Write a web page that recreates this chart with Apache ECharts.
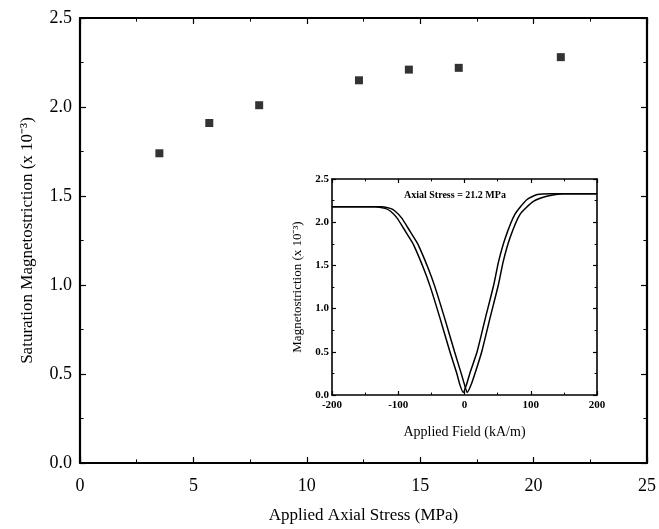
<!DOCTYPE html>
<html>
<head>
<meta charset="utf-8">
<script src="https://cdn.jsdelivr.net/npm/echarts@6/dist/echarts.min.js"></script>
<style>
  html, body { margin: 0; padding: 0; background: #fff; }
  #chart { width: 659px; height: 529px; }
</style>
</head>
<body>
<div id="chart"></div>
<script>
// main plot: saturation magnetostriction vs axial stress
const stress = [3.5, 5.7, 7.9, 12.3, 14.5, 16.7, 21.2];
const satMag = [1.74, 1.91, 2.01, 2.15, 2.21, 2.22, 2.28];

// inset: the two branches of the butterfly loop at 21.2 MPa
const fieldA = [-200, -160, -135, -120, -112, -102, -92, -84, -77, -62, -52, -37, -22, -12, -7, -2, 3, 8, 19, 31.5, 44, 51.6, 61.7, 76, 94, 110, 130, 200];
const magA = [2.18, 2.18, 2.18, 2.16, 2.13, 2.05, 1.93, 1.83, 1.74, 1.47, 1.26, 0.89, 0.50, 0.26, 0.12, 0.03, 0.12, 0.25, 0.50, 0.89, 1.27, 1.55, 1.82, 2.09, 2.26, 2.32, 2.33, 2.33];
const fieldB = [-200, -150, -125, -112, -105, -95, -85, -77, -70, -55, -45, -30, -15, -5, 0, 4, 11, 18, 26, 38.5, 51, 58.6, 68.7, 83.8, 104, 124, 150, 200];
const magB = [2.18, 2.18, 2.18, 2.16, 2.13, 2.05, 1.93, 1.83, 1.74, 1.47, 1.26, 0.89, 0.50, 0.25, 0.12, 0.03, 0.14, 0.30, 0.50, 0.89, 1.27, 1.55, 1.82, 2.09, 2.24, 2.30, 2.33, 2.33];

const serif = 'Liberation Serif';
const zip = (xs, ys) => xs.map((x, i) => [x, ys[i]]);
const fix1 = v => v.toFixed(1);

// shared look for the boxed axes
const boxAxis = (extra, w, tickLen) => Object.assign({
  axisLine: { show: true, onZero: false, lineStyle: { color: '#000', width: w } },
  axisTick: { show: true, inside: true, length: tickLen, lineStyle: { color: '#000', width: 1.2 } },
  minorTick: { show: true, splitNumber: 2, length: tickLen * 0.6, lineStyle: { color: '#000', width: 1 } },
  splitLine: { show: false },
  minorSplitLine: { show: false }
}, extra);

var myChart = echarts.init(document.getElementById('chart'));
myChart.setOption({
  animation: false,
  backgroundColor: '#fff',
  grid: [
    { left: 80, right: 12, top: 18, bottom: 66, outerBoundsMode: 'none' },
    { left: 332, top: 179, width: 265, height: 216, show: true, backgroundColor: '#fff', borderWidth: 0, outerBoundsMode: 'none' }
  ],
  xAxis: [
    boxAxis({
      type: 'value', gridIndex: 0, position: 'bottom', min: 0, max: 25, interval: 5,
      axisLabel: { color: '#000', fontFamily: serif, fontSize: 18, margin: 14 },
      name: 'Applied Axial Stress (MPa)', nameLocation: 'middle', nameGap: 44,
      nameTextStyle: { color: '#000', fontFamily: serif, fontSize: 17 }
    }, 2.2, 6),
    boxAxis({
      type: 'value', gridIndex: 0, position: 'top', min: 0, max: 25, interval: 5,
      axisLabel: { show: false }
    }, 2.2, 6),
    boxAxis({
      type: 'value', gridIndex: 1, position: 'bottom', min: -200, max: 200, interval: 100,
      axisLabel: { color: '#000', fontFamily: serif, fontSize: 11, fontWeight: 'bold', margin: 5 },
      name: 'Applied Field (kA/m)', nameLocation: 'middle', nameGap: 30,
      nameTextStyle: { color: '#000', fontFamily: serif, fontSize: 14 }
    }, 1.6, 4),
    boxAxis({
      type: 'value', gridIndex: 1, position: 'top', min: -200, max: 200, interval: 100,
      axisLabel: { show: false }
    }, 1.6, 4)
  ],
  yAxis: [
    boxAxis({
      type: 'value', gridIndex: 0, position: 'left', min: 0, max: 2.5, interval: 0.5,
      axisLabel: { color: '#000', fontFamily: serif, fontSize: 18, margin: 8, formatter: fix1 },
      name: 'Saturation Magnetostriction (x 10\u207B\u00B3)', nameLocation: 'middle', nameGap: 44,
      nameTextStyle: { color: '#000', fontFamily: serif, fontSize: 17 }
    }, 2.2, 6),
    boxAxis({
      type: 'value', gridIndex: 0, position: 'right', min: 0, max: 2.5, interval: 0.5,
      axisLabel: { show: false }
    }, 2.2, 6),
    boxAxis({
      type: 'value', gridIndex: 1, position: 'left', min: 0, max: 2.5, interval: 0.5,
      axisLabel: { color: '#000', fontFamily: serif, fontSize: 11, fontWeight: 'bold', margin: 3, formatter: fix1 },
      name: 'Magnetostriction (x 10\u207B\u00B3)', nameLocation: 'middle', nameGap: 28,
      nameTextStyle: { color: '#000', fontFamily: serif, fontSize: 13 }
    }, 1.6, 4),
    boxAxis({
      type: 'value', gridIndex: 1, position: 'right', min: 0, max: 2.5, interval: 0.5,
      axisLabel: { show: false }
    }, 1.6, 4)
  ],
  graphic: [{
    type: 'text', left: 404, top: 190, z: 100,
    style: { text: 'Axial Stress = 21.2 MPa', fill: '#000', font: 'bold 10px "Liberation Serif"' }
  }],
  series: [
    {
      type: 'scatter', xAxisIndex: 0, yAxisIndex: 0,
      data: zip(stress, satMag),
      symbol: 'rect', symbolSize: 8,
      itemStyle: { color: '#000' }
    },
    {
      type: 'line', xAxisIndex: 2, yAxisIndex: 2,
      data: zip(fieldA, magA),
      showSymbol: false, smooth: 0.2,
      lineStyle: { color: '#000', width: 1.5 }
    },
    {
      type: 'line', xAxisIndex: 2, yAxisIndex: 2,
      data: zip(fieldB, magB),
      showSymbol: false, smooth: 0.2,
      lineStyle: { color: '#000', width: 1.5 }
    }
  ]
});
</script>
</body>
</html>
